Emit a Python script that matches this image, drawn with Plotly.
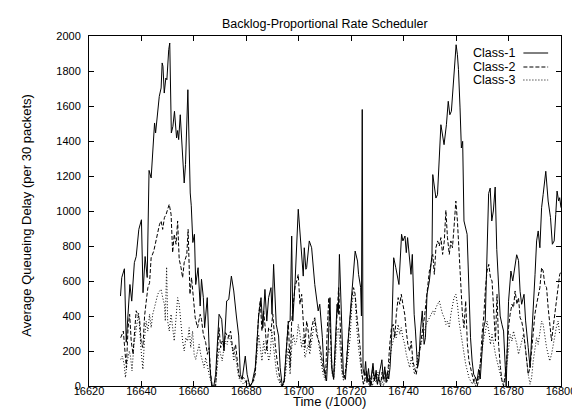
import plotly.graph_objects as go

title_text = "Backlog-Proportional Rate Scheduler"
x_title = "Time (/1000)"
y_title = "Average Queueing Delay (per 30 packets)"
series_names = ["Class-1", "Class-2", "Class-3"]
x_ticks = [16620, 16640, 16660, 16680, 16700, 16720, 16740, 16760, 16780, 16800]
x_tick_labels = ["16620", "16640", "16660", "16680", "16700", "16720", "16740", "16760", "16780", "16800"]
y_ticks = [0, 200, 400, 600, 800, 1000, 1200, 1400, 1600, 1800, 2000]
y_tick_labels = ["0", "200", "400", "600", "800", "1000", "1200", "1400", "1600", "1800", "2000"]

# Class-1 (solid)
t1 = [16632.0, 16632.5, 16633.5, 16634.2, 16635.6, 16636.3, 16637.3, 16638.0, 16639.0, 16640.0,
      16640.6, 16641.4, 16642.2, 16642.9, 16643.7, 16645.0, 16645.4, 16646.0, 16646.8, 16647.5,
      16647.9, 16648.2, 16648.7, 16649.3, 16649.7, 16650.4, 16650.8, 16651.4, 16652.0, 16652.6,
      16653.4, 16653.8, 16654.2, 16654.8, 16655.4, 16655.8, 16656.3, 16656.8, 16657.7, 16658.6,
      16659.0, 16659.6, 16660.2, 16660.7, 16661.6, 16662.4, 16662.9, 16663.6, 16664.1, 16665.1,
      16666.1, 16666.8, 16667.6, 16668.3, 16669.6, 16670.6, 16671.5, 16672.5, 16673.3, 16674.3,
      16675.2, 16676.2, 16677.1, 16677.7, 16678.4, 16679.6, 16680.3, 16681.3, 16682.2, 16683.4,
      16684.7, 16685.6, 16686.3, 16687.1, 16687.8, 16688.5, 16689.4, 16689.8, 16690.4, 16691.4,
      16692.3, 16692.9, 16693.7, 16694.4, 16695.2, 16696.0, 16696.7, 16697.3, 16697.7, 16698.6,
      16699.8, 16700.8, 16701.7, 16702.1, 16702.7, 16703.0, 16704.0, 16704.9, 16706.1, 16707.4,
      16708.0, 16709.0, 16709.5, 16710.0, 16710.6, 16711.0, 16711.9, 16712.6, 16713.3, 16714.2,
      16714.6, 16715.1, 16715.5, 16717.0, 16717.8, 16718.6, 16720.5, 16721.5, 16722.4, 16722.8,
      16723.6, 16723.9, 16724.2, 16724.5, 16725.0, 16725.5, 16726.0, 16726.6, 16727.2, 16727.8,
      16728.3, 16728.9, 16729.5, 16730.0, 16730.6, 16731.2, 16731.7, 16732.2, 16732.8, 16733.3,
      16733.9, 16734.3, 16734.8, 16735.4, 16736.2, 16737.0, 16737.7, 16738.2, 16739.2, 16739.7,
      16740.5, 16741.0, 16741.5, 16742.0, 16742.8, 16743.3, 16744.0, 16744.5, 16745.3, 16745.8,
      16746.4, 16747.1, 16747.8, 16748.3, 16748.9, 16749.8, 16750.8, 16751.1, 16752.3, 16752.9,
      16754.2, 16755.4, 16756.3, 16757.0, 16757.6, 16758.2, 16758.9, 16759.5, 16760.0, 16760.5,
      16760.9, 16761.5, 16762.0, 16762.5, 16763.0, 16764.2, 16765.5, 16766.1, 16766.7, 16768.0,
      16768.6, 16769.2, 16770.5, 16771.1, 16771.5, 16772.4, 16773.0, 16773.6, 16774.2, 16774.9,
      16775.5, 16776.1, 16776.8, 16777.5, 16778.1, 16778.7, 16779.1, 16780.0, 16780.9, 16781.6,
      16782.1, 16783.1, 16783.8, 16784.4, 16785.0, 16785.9, 16786.5, 16786.9, 16787.5, 16788.2,
      16788.8, 16789.4, 16790.1, 16790.7, 16791.3, 16791.95, 16792.6, 16793.2, 16794.2, 16795.1,
      16796.0, 16796.7, 16797.4, 16798.0, 16798.5, 16799.1, 16799.5, 16800.0]
v1 = [514, 620, 670, 250, 580, 485, 705, 740, 895, 950,
      533, 740, 620, 1232, 1189, 1503, 1446, 1531, 1655, 1703,
      1846, 1827, 1674, 1760, 1750, 1922, 1960, 1446, 1484, 1570,
      1417, 1460, 1408, 1550, 1398, 1303, 1160, 1265, 1693, 1103,
      1030, 820, 867, 580, 676, 457, 610, 505, 333, 505,
      105, 0, 0, 67, 410, 381, 200, 486, 495, 628,
      543, 400, 286, 67, 38, 171, 67, 0, 19, 105,
      400, 505, 333, 552, 371, 505, 562, 410, 695, 352,
      286, 105, 0, 29, 181, 362, 371, 857, 371, 600,
      1010, 790, 628, 790, 667, 676, 829, 790, 580, 429,
      467, 276, 124, 67, 29, 143, 505, 105, 38, 333,
      467, 410, 752, 67, 38, 219, 562, 771, 714, 638,
      562, 400, 1580, 100, 60, 140, 20, 100, 0, 80,
      130, 30, 90, 10, 60, 120, 150, 40, 110, 20,
      80, 40, 105, 276, 733, 676, 619, 580, 867, 829,
      857, 762, 848, 771, 638, 752, 410, 314, 105, 143,
      314, 429, 238, 276, 524, 600, 752, 1208, 1074, 1093,
      1493, 1379, 1493, 1627, 1550, 1570, 1703, 1836, 1950, 1893,
      1808, 1589, 1360, 1398, 943, 867, 276, 143, 67, 29,
      95, 40, 333, 371, 638, 1100, 1131, 943, 1000, 1137,
      781, 562, 400, 350, 314, 122, 0, 484, 657, 600,
      657, 750, 717, 541, 467, 524, 372, 295, 219, 105,
      257, 467, 638, 829, 886, 790, 1019, 1095, 1227, 1057,
      962, 810, 829, 981, 1114, 1057, 1076, 1019]

# Class-2 (dashed)
t2 = [16632.1, 16632.6, 16633.1, 16633.6, 16634.25, 16634.9, 16635.5, 16636.1, 16636.8, 16637.4,
      16638.0, 16639.3, 16639.9, 16640.55, 16641.2, 16641.8, 16642.45, 16643.1, 16643.7, 16644.7,
      16645.6, 16646.2, 16646.9, 16647.5, 16648.1, 16648.75, 16649.4, 16650.0, 16650.6, 16651.3,
      16651.9, 16652.5, 16653.2, 16653.8, 16654.4, 16655.1, 16655.7, 16656.3, 16657.3, 16657.8,
      16658.5, 16659.1, 16659.8, 16660.5, 16661.4, 16662.4, 16662.9, 16663.6, 16664.5, 16665.15,
      16665.8, 16666.4, 16667.0, 16668.3, 16668.9, 16669.6, 16670.2, 16670.8, 16671.45, 16672.1,
      16673.1, 16674.0, 16674.6, 16675.2, 16675.9, 16676.5, 16677.1, 16677.8, 16679.0, 16680.3,
      16681.3, 16682.2, 16683.4, 16684.7, 16685.3, 16685.95, 16686.6, 16687.2, 16687.8, 16688.5,
      16689.4, 16690.1, 16691.0, 16691.9, 16692.9, 16693.6, 16694.4, 16695.4, 16696.0, 16696.7,
      16697.3, 16697.9, 16698.6, 16699.2, 16699.8, 16700.45, 16701.1, 16701.7, 16702.35, 16703.0,
      16703.6, 16704.2, 16704.9, 16705.5, 16706.1, 16706.8, 16708.0, 16709.3, 16710.2, 16710.8,
      16711.45, 16712.1, 16712.7, 16713.3, 16713.96, 16714.6, 16715.2, 16715.85, 16716.5, 16717.1,
      16717.7, 16718.4, 16719.0, 16719.6, 16720.25, 16720.9, 16721.5, 16722.1, 16722.8, 16723.4,
      16724.0, 16724.65, 16725.2, 16725.8, 16726.4, 16727.0, 16727.6, 16728.2, 16728.8, 16729.4,
      16730.0, 16730.6, 16731.2, 16731.8, 16732.4, 16733.0, 16733.6, 16734.1, 16734.7, 16735.35,
      16736.0, 16736.6, 16737.2, 16737.9, 16738.5, 16739.1, 16739.7, 16740.4, 16741.0, 16741.6,
      16742.3, 16742.9, 16743.5, 16744.15, 16744.8, 16745.4, 16746.0, 16746.7, 16747.3, 16747.9,
      16748.6, 16749.2, 16749.8, 16750.4, 16751.1, 16751.7, 16752.3, 16752.95, 16753.6, 16754.2,
      16754.85, 16755.5, 16756.1, 16756.7, 16757.4, 16758.0, 16758.6, 16759.2, 16759.9, 16760.5,
      16761.1, 16761.8, 16762.4, 16763.0, 16763.65, 16764.3, 16764.9, 16765.5, 16766.2, 16766.8,
      16767.4, 16768.05, 16768.7, 16769.3, 16769.9, 16770.6, 16771.2, 16771.8, 16772.45, 16773.1,
      16773.7, 16774.3, 16775.0, 16775.6, 16776.2, 16776.9, 16777.5, 16778.1, 16778.7, 16779.4,
      16780.0, 16780.6, 16781.3, 16781.9, 16782.5, 16783.2, 16783.8, 16784.4, 16785.0, 16785.7,
      16786.3, 16786.9, 16787.5, 16788.2, 16788.8, 16789.4, 16790.05, 16790.7, 16791.3, 16791.95,
      16792.6, 16793.2, 16793.8, 16794.5, 16795.1, 16795.7, 16796.4, 16797.0, 16797.6, 16798.2,
      16798.9, 16799.5, 16799.9]
v2 = [276, 295, 314, 219, 105, 333, 410, 257, 181, 314,
      430, 380, 250, 220, 400, 480, 562, 590, 733, 771,
      829, 886, 924, 943, 895, 962, 980, 1010, 1038, 981,
      762, 867, 810, 943, 724, 676, 619, 705, 752, 895,
      524, 619, 505, 390, 333, 410, 381, 295, 248, 181,
      219, 67, 0, 0, 181, 333, 219, 257, 219, 305,
      276, 314, 238, 181, 238, 143, 67, 38, 48, 10,
      0, 10, 67, 410, 486, 314, 429, 333, 200, 333,
      314, 410, 238, 124, 29, 0, 10, 238, 371, 105,
      371, 467, 571, 600, 638, 467, 524, 371, 219, 371,
      314, 219, 333, 371, 390, 295, 238, 105, 48, 295,
      505, 295, 86, 48, 276, 410, 562, 276, 105, 48,
      67, 181, 276, 371, 505, 562, 524, 410, 314, 219,
      86, 10, 40, 90, 20, 60, 0, 110, 30, 70,
      10, 50, 0, 80, 30, 90, 40, 105, 238, 333,
      352, 276, 410, 505, 467, 524, 467, 410, 314, 238,
      200, 257, 143, 105, 67, 124, 200, 257, 333, 390,
      486, 562, 657, 695, 752, 638, 790, 829, 800, 848,
      752, 829, 1004, 848, 752, 829, 790, 905, 1057, 943,
      752, 562, 410, 333, 486, 238, 143, 105, 67, 20,
      50, 0, 40, 143, 295, 410, 562, 657, 695, 619,
      600, 410, 257, 524, 238, 105, 29, 0, 67, 181,
      333, 410, 467, 448, 543, 467, 505, 390, 371, 314,
      238, 143, 67, 105, 219, 333, 410, 467, 524, 562,
      676, 657, 581, 562, 448, 371, 257, 333, 410, 486,
      581, 638, 650]

# Class-3 (dotted)
t3 = [16632.1, 16632.7, 16633.4, 16633.9, 16634.6, 16635.4, 16635.9, 16636.4, 16637.15, 16638.0,
      16638.9, 16639.9, 16640.55, 16641.2, 16641.8, 16642.45, 16643.1, 16643.7, 16644.3, 16644.97,
      16645.6, 16646.2, 16646.9, 16647.5, 16648.1, 16648.75, 16649.1, 16649.6, 16650.0, 16650.6,
      16651.3, 16651.9, 16652.5, 16653.2, 16653.8, 16654.4, 16655.1, 16655.7, 16656.3, 16656.95,
      16657.6, 16658.2, 16658.8, 16659.5, 16660.1, 16660.7, 16661.4, 16662.0, 16662.6, 16663.25,
      16663.9, 16664.5, 16665.15, 16665.8, 16666.4, 16667.0, 16668.3, 16668.9, 16669.6, 16670.2,
      16670.8, 16671.45, 16672.1, 16672.7, 16673.3, 16674.0, 16674.6, 16675.2, 16675.9, 16676.5,
      16677.1, 16677.8, 16679.0, 16680.3, 16681.5, 16682.8, 16684.1, 16684.7, 16685.3, 16685.95,
      16686.6, 16687.2, 16687.8, 16688.5, 16689.1, 16689.7, 16690.4, 16691.0, 16691.6, 16692.3,
      16693.5, 16694.8, 16695.4, 16696.0, 16696.7, 16697.3, 16697.9, 16698.6, 16699.2, 16699.8,
      16700.45, 16701.1, 16701.7, 16702.35, 16703.0, 16703.6, 16704.2, 16704.9, 16705.5, 16706.1,
      16706.8, 16707.4, 16708.0, 16708.65, 16709.3, 16710.2, 16710.8, 16711.45, 16712.1, 16712.7,
      16713.3, 16713.96, 16714.6, 16715.2, 16715.85, 16716.5, 16717.1, 16717.7, 16718.4, 16719.0,
      16719.6, 16720.25, 16720.9, 16721.5, 16722.1, 16722.8, 16723.4, 16724.0, 16724.65, 16725.3,
      16726.0, 16726.7, 16727.4, 16728.1, 16728.8, 16729.5, 16730.2, 16730.9, 16731.6, 16732.3,
      16733.0, 16733.7, 16734.2, 16734.7, 16735.35, 16736.0, 16736.6, 16737.2, 16737.9, 16738.5,
      16739.1, 16739.7, 16740.4, 16741.0, 16741.6, 16742.3, 16742.9, 16743.5, 16744.15, 16744.8,
      16745.4, 16746.0, 16746.7, 16747.3, 16747.9, 16748.6, 16749.2, 16749.8, 16750.4, 16751.1,
      16751.7, 16752.3, 16752.95, 16753.6, 16754.2, 16754.85, 16755.5, 16756.1, 16756.7, 16757.4,
      16758.0, 16758.6, 16759.2, 16759.9, 16760.5, 16761.1, 16761.8, 16762.4, 16763.0, 16763.65,
      16764.3, 16764.9, 16765.5, 16766.2, 16766.8, 16767.4, 16768.05, 16768.7, 16769.3, 16769.9,
      16770.6, 16771.2, 16771.8, 16772.45, 16773.1, 16773.7, 16774.3, 16775.0, 16775.6, 16776.2,
      16776.9, 16777.5, 16778.1, 16778.7, 16779.4, 16780.0, 16780.6, 16781.3, 16781.9, 16782.5,
      16783.2, 16783.8, 16784.4, 16785.0, 16785.7, 16786.3, 16786.9, 16787.5, 16788.2, 16788.8,
      16789.4, 16790.05, 16790.7, 16791.3, 16791.95, 16792.6, 16793.2, 16793.8, 16794.5, 16795.1,
      16795.7, 16796.4, 16797.0, 16797.6, 16798.2, 16798.9, 16799.5]
v3 = [152, 171, 124, 48, 143, 200, 162, 86, 238, 333,
      420, 200, 95, 276, 371, 314, 410, 333, 410, 448,
      486, 524, 543, 552, 505, 467, 371, 680, 371, 314,
      410, 333, 257, 390, 505, 467, 333, 257, 200, 276,
      257, 333, 219, 314, 181, 152, 200, 238, 181, 143,
      105, 162, 105, 67, 29, 0, 10, 105, 219, 181,
      143, 219, 257, 238, 295, 257, 219, 143, 181, 105,
      48, 29, 10, 38, 0, 29, 181, 295, 219, 143,
      257, 181, 238, 143, 181, 314, 219, 124, 67, 29,
      0, 48, 143, 219, 67, 219, 295, 238, 257, 352,
      295, 219, 276, 162, 200, 238, 181, 257, 333, 381,
      333, 257, 181, 124, 67, 29, 143, 219, 181, 67,
      38, 143, 314, 333, 200, 67, 29, 67, 124, 200,
      276, 467, 524, 505, 333, 219, 124, 67, 10, 30,
      70, 10, 50, 0, 60, 20, 80, 10, 40, 0,
      60, 20, 90, 143, 219, 257, 314, 276, 352, 295,
      333, 276, 238, 181, 143, 105, 162, 105, 67, 105,
      181, 200, 238, 295, 314, 352, 371, 390, 410, 429,
      410, 448, 467, 486, 448, 410, 390, 352, 371, 333,
      410, 467, 505, 524, 467, 371, 295, 238, 181, 124,
      86, 48, 29, 10, 40, 0, 30, 60, 143, 219,
      276, 314, 371, 314, 238, 295, 238, 181, 143, 105,
      67, 29, 10, 48, 124, 219, 295, 257, 314, 276,
      238, 181, 219, 257, 295, 238, 143, 67, 10, 48,
      143, 219, 276, 238, 314, 371, 352, 276, 219, 181,
      143, 181, 238, 276, 333, 371, 295]

dash_styles = ["solid", "4px,2px", "1px,2px"]
font_family = "Liberation Sans, Arial, Helvetica, sans-serif"

fig = go.Figure()
for t, v, name, dash in zip([t1, t2, t3], [v1, v2, v3], series_names, dash_styles):
    fig.add_trace(go.Scatter(x=t, y=v, mode="lines", name=name, showlegend=False,
                             line=dict(color="black", width=1, dash=dash)))

axis_common = dict(showline=True, linecolor="black", linewidth=1, mirror="ticks",
                   ticks="inside", ticklen=5, tickcolor="black", tickwidth=1,
                   showgrid=False, zeroline=False,
                   tickfont=dict(family=font_family, size=11, color="black"))

fig.update_layout(
    width=580, height=410,
    margin=dict(l=81, r=22, t=28, b=32),
    paper_bgcolor="white", plot_bgcolor="white",
    font=dict(family=font_family, color="black"),
    xaxis=dict(range=[16620, 16800], tickmode="array", tickvals=x_ticks,
               ticktext=x_tick_labels, ticklabelstandoff=-5, **axis_common),
    yaxis=dict(range=[0, 2000], tickmode="array", tickvals=y_ticks,
               ticktext=y_tick_labels, ticklabelstandoff=5, **axis_common),
)

annotations = [
    dict(text=title_text, x=0.5, y=(378 - 16) / 350, xref="paper", yref="paper",
         xanchor="center", yanchor="middle", showarrow=False, font=dict(size=12.5)),
    dict(text=x_title, x=(324 - 81) / 477, y=(378 - 393) / 350, xref="paper", yref="paper",
         xanchor="center", yanchor="middle", showarrow=False, font=dict(size=13),
         borderpad=0),
    dict(text=y_title, x=(17 - 81) / 477, y=(378 - 207) / 350, xref="paper", yref="paper",
         xanchor="center", yanchor="middle", textangle=-90, showarrow=False, font=dict(size=13)),
]
legend_rows = [45, 59, 72]
shapes = []
for name, dash, py in zip(series_names, dash_styles, legend_rows):
    yp = (378 - py) / 350
    annotations.append(dict(text=name, x=(514 - 81) / 477, y=yp, xref="paper", yref="paper",
                            xanchor="right", yanchor="middle", showarrow=False,
                            font=dict(size=12.5)))
    shapes.append(dict(type="line", xref="paper", yref="paper",
                       x0=(520 - 81) / 477, x1=(545 - 81) / 477, y0=yp, y1=yp,
                       line=dict(color="black", width=1, dash=dash)))
fig.update_layout(annotations=annotations, shapes=shapes)

fig.write_html("out.html")
